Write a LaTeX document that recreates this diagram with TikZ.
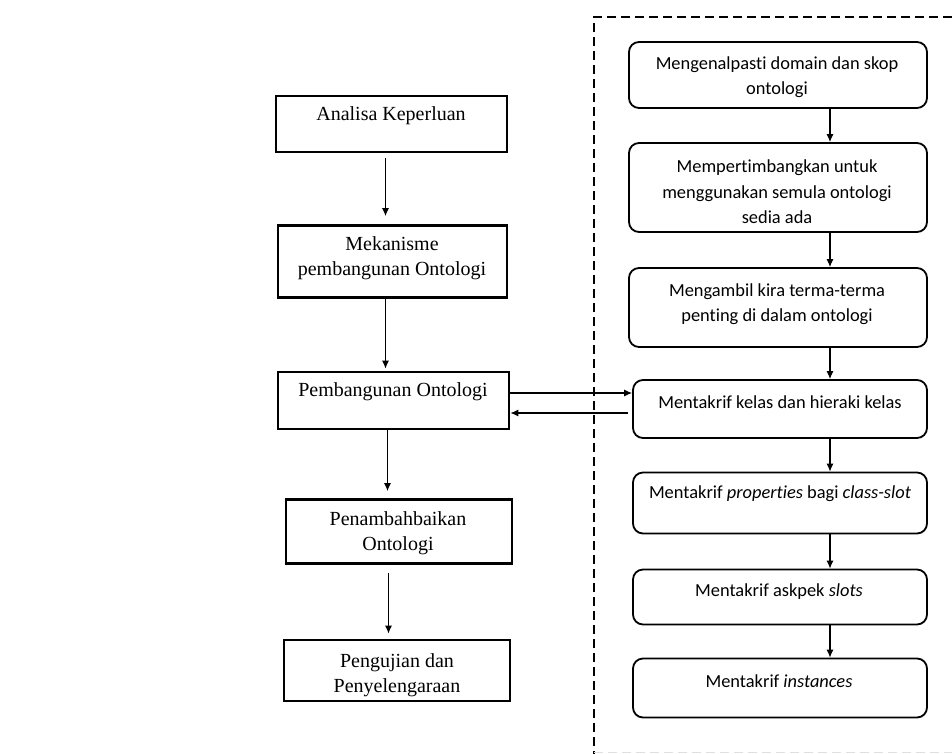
\documentclass[tikz,border=0pt]{standalone}
\usepackage{fontspec}
\setmainfont{Liberation Serif}
\newfontfamily\calfont[RawFeature=-liga]{Carlito}
\usetikzlibrary{arrows.meta,calc}
\begin{document}
\begin{tikzpicture}[x=1pt,y=-1pt,
  lbox/.style={draw=black,line width=2.8pt,inner sep=0pt},
  rbox/.style={draw=black,line width=1.8pt,rounded corners=10pt,inner sep=0pt},
  ltext/.style={align=center,font=\fontsize{20}{24.5}\selectfont,inner sep=0pt},
  rtext/.style={align=center,font=\calfont\fontsize{18.4}{25.5}\selectfont,inner sep=0pt},
  arr/.style={line width=1.1pt,-{Latex[length=8pt,width=7pt]}},
  frame/.style={line width=2.6pt,dash pattern=on 9pt off 5pt}]
\useasboundingbox (0,0) rectangle (952,753);
\begin{scope}
\clip (0,0) rectangle (952,753);
\draw[frame] (594,760) -- (594,17) -- (960,17);
\draw[gray!25,line width=1pt,dash pattern=on 9pt off 5pt] (594,752) -- (960,752);
\end{scope}

% left column boxes
\node[lbox,minimum width=231pt,minimum height=56pt] (a) at (391.5,124) {};
\node[lbox,minimum width=229pt,minimum height=72pt] (b) at (392.5,261.5) {};
\node[lbox,minimum width=231pt,minimum height=57pt] (c) at (393.5,400.5) {};
\node[lbox,minimum width=226pt,minimum height=64pt] (d) at (399,531.5) {};
\node[lbox,minimum width=226pt,minimum height=61pt] (e) at (397,670.5) {};

\node[ltext] (ta) at (391,116) {Analisa Keperluan};
\node[ltext] (tb) at (392,258) {Mekanisme\\pembangunan Ontologi};
\node[ltext] (tc) at (393,392) {Pembangunan Ontologi};
\node[ltext] (td) at (398,533) {Penambahbaikan\\Ontologi};
\node[ltext] (te) at (397,675) {Pengujian dan\\Penyelengaraan};

% right column boxes
\node[rbox,minimum width=298pt,minimum height=66pt] (r1) at (778,75) {};
\node[rbox,minimum width=298pt,minimum height=89pt] (r2) at (778,187.5) {};
\node[rbox,minimum width=298pt,minimum height=79pt] (r3) at (778,307.5) {};
\node[rbox,minimum width=294pt,minimum height=58pt] (r4) at (780,409) {};
\node[rbox,minimum width=294pt,minimum height=61pt] (r5) at (780,503) {};
\node[rbox,minimum width=294pt,minimum height=55pt] (r6) at (780,597) {};
\node[rbox,minimum width=294pt,minimum height=59pt] (r7) at (780,688) {};

\node[rtext] (t1) at (777,77) {Mengenalpasti domain dan skop\\ontologi};
\node[rtext] (t2) at (777,192) {Mempertimbangkan untuk\\menggunakan semula ontologi\\sedia ada};
\node[rtext] (t3) at (777,304) {Mengambil kira terma-terma\\penting di dalam ontologi};
\node[rtext] (t4) at (780,402) {Mentakrif kelas dan hieraki kelas};
\node[rtext] (t5) at (780,494) {Mentakrif \textit{properties} bagi \textit{class-slot}};
\node[rtext] (t6) at (779,592) {Mentakrif askpek \textit{slots}};
\node[rtext] (t7) at (779,681) {Mentakrif \textit{instances}};

% left arrows
\draw[arr] ($(a.south)+(-6,5)$) -- ($(b.north)+(-7,-8)$);
\draw[arr] ($(b.south)+(-7,0)$) -- ($(c.north)+(-8,-2)$);
\draw[arr] ($(c.south)+(-6,0)$) -- ($(d.north)+(-11.5,-7)$);
\draw[arr] ($(d.south)+(-10.5,8)$) -- ($(e.north)+(-8.5,-5)$);

% right arrows
\draw[arr] (r1.south -| 830,0) -- (r2.north -| 830,0);
\draw[arr] (r2.south -| 830,0) -- (r3.north -| 830,0);
\draw[arr] (r3.south -| 830,0) -- (r4.north -| 830,0);
\draw[arr] (r4.south -| 830,0) -- (r5.north -| 830,0);
\draw[arr] (r5.south -| 830,0) -- (r6.north -| 830,0);
\draw[arr] (r6.south -| 830,0) -- (r7.north -| 830,0);

% horizontal link
\draw[arr] (c.east |- 0,393) -- (r4.west |- 0,393);
\draw[arr] ($(r4.west |- 0,413)+(-4,0)$) -- (c.east |- 0,413);
\end{tikzpicture}
\end{document}
